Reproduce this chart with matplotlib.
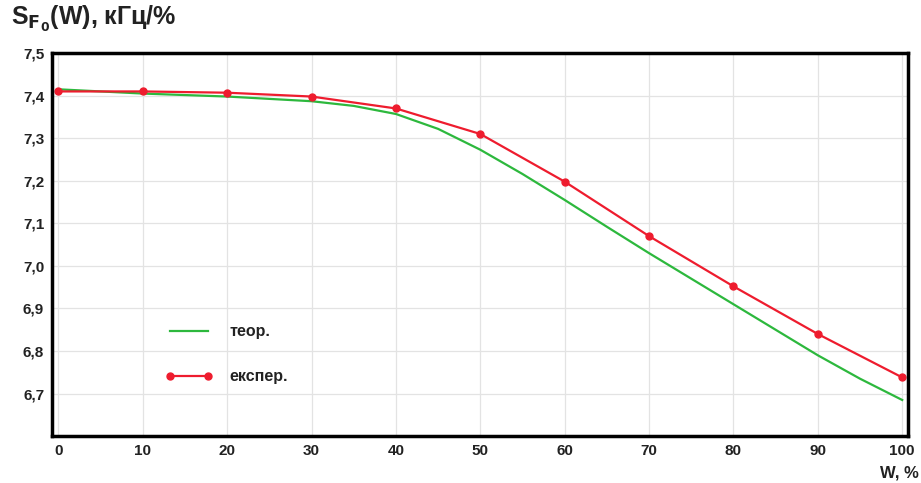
import numpy as np
import matplotlib.pyplot as plt
from matplotlib.ticker import FuncFormatter

# Data
w_theor = [0, 10, 20, 30, 35, 40, 45, 50, 55, 60, 65, 70, 75, 80, 85, 90, 95, 100]
s_theor = [7.415, 7.405, 7.398, 7.387, 7.376, 7.357, 7.322, 7.273, 7.216, 7.155, 7.092, 7.03, 6.97, 6.91, 6.85, 6.79, 6.735, 6.685]

w_exp = [0, 10, 20, 30, 40, 50, 60, 70, 80, 90, 100]
s_exp = [7.41, 7.41, 7.407, 7.398, 7.37, 7.31, 7.198, 7.07, 6.952, 6.84, 6.738]

x_ticks = [0, 10, 20, 30, 40, 50, 60, 70, 80, 90, 100]
y_ticks = [6.7, 6.8, 6.9, 7.0, 7.1, 7.2, 7.3, 7.4, 7.5]

plt.rcParams['font.family'] = ['Liberation Sans', 'DejaVu Sans']

fig = plt.figure(figsize=(9.21, 4.83), dpi=100)
ax = fig.add_axes([0.057, 0.097, 0.929, 0.793])

ax.plot(w_theor, s_theor, color='#2db83d', lw=1.6, label='теор.')
ax.plot(w_exp, s_exp, color='#ee1c2e', lw=1.6, marker='o', ms=5, label='експер.')

ax.set_xlim(-0.7, 100.7)
ax.set_ylim(6.6, 7.5)
ax.set_xticks(x_ticks)
ax.set_yticks(y_ticks)
ax.yaxis.set_major_formatter(FuncFormatter(lambda v, p: f'{v:.1f}'.replace('.', ',')))
ax.tick_params(length=0, labelsize=11, pad=6)
for lab in ax.get_xticklabels() + ax.get_yticklabels():
    lab.set_fontweight('bold')
    lab.set_color('#222222')

ax.grid(True, color='#e3e3e3', lw=0.9)
for sp in ax.spines.values():
    sp.set_linewidth(2.5)
    sp.set_color('black')

leg = ax.legend(loc='upper left', bbox_to_anchor=(0.115, 0.33), frameon=False,
                fontsize=11.5, handlelength=3, labelspacing=1.9, numpoints=2,
                handletextpad=1.0)
for t in leg.get_texts():
    t.set_fontweight('bold')
    t.set_color('#222222')

fig.text(0.012, 0.93, r'S$_{\mathbf{F_0}}$(W), кГц/%', fontsize=18, fontweight='bold',
         color='#222222', va='bottom')
fig.text(0.998, 0.005, 'W, %', fontsize=12, fontweight='bold', color='#222222',
         ha='right', va='bottom')

fig.savefig('out.png', dpi=100)
